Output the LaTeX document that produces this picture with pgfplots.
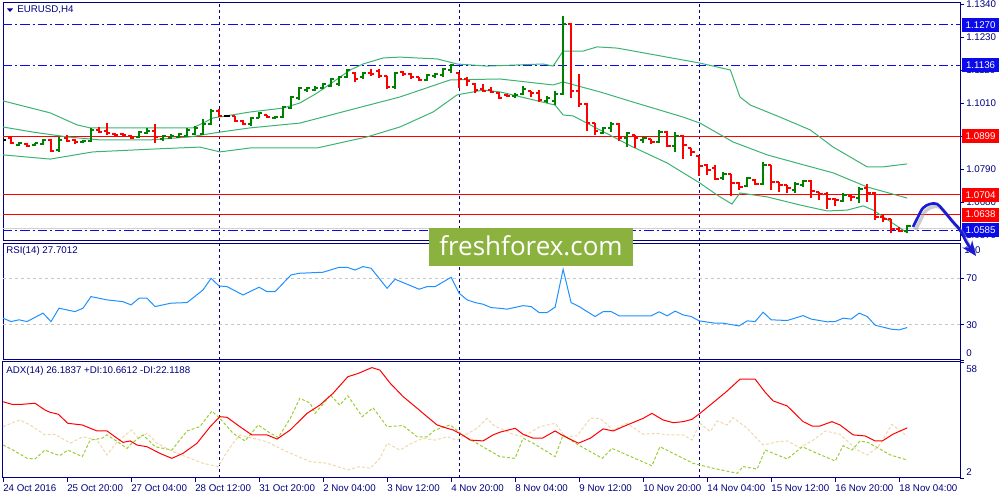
\documentclass[border=0pt]{standalone}
\usepackage{fontspec}
\setmainfont{Liberation Sans}
\newfontfamily\wmfont{Open Sans}
\usepackage{pgfplots}
\pgfplotsset{compat=1.18}
\usepackage{pgfplotstable}
\usetikzlibrary{arrows.meta}

\definecolor{mtnavy}{RGB}{0,0,128}
\definecolor{bband}{RGB}{60,179,113}
\definecolor{barup}{RGB}{0,128,0}
\definecolor{bardn}{RGB}{255,0,0}
\definecolor{lvlblue}{RGB}{10,10,235}
\definecolor{rsiblue}{RGB}{30,144,255}
\definecolor{pdi}{RGB}{154,205,50}
\definecolor{mdi}{RGB}{240,215,170}
\definecolor{wmgreen}{RGB}{139,178,62}
\definecolor{arrowblue}{RGB}{25,25,215}

% EURUSD H4 bars: index, open, high, low, close
\pgfplotstableread{
i o h l c
2 1.0870 1.0880 1.0867 1.0877
4 1.0870 1.0877 1.0867 1.0877
5 1.0873 1.0890 1.0870 1.0887
7 1.0853 1.0897 1.0847 1.0887
10 1.0880 1.0887 1.0877 1.0883
11 1.0883 1.0927 1.0880 1.0920
17 1.0897 1.0917 1.0893 1.0913
18 1.0910 1.0927 1.0907 1.0917
20 1.0890 1.0903 1.0883 1.0900
21 1.0893 1.0907 1.0890 1.0900
22 1.0897 1.0910 1.0893 1.0907
23 1.0900 1.0927 1.0897 1.0920
24 1.0907 1.0933 1.0903 1.0927
25 1.0907 1.0957 1.0903 1.0940
26 1.0940 1.0990 1.0937 1.0983
31 1.0940 1.0963 1.0933 1.0960
32 1.0960 1.0980 1.0960 1.0977
34 1.0960 1.0967 1.0957 1.0963
35 1.0963 1.1000 1.0960 1.0997
36 1.0993 1.1033 1.0990 1.1030
37 1.1027 1.1063 1.1020 1.1060
38 1.1053 1.1063 1.1047 1.1060
39 1.1053 1.1067 1.1050 1.1060
40 1.1060 1.1077 1.1057 1.1073
41 1.1067 1.1093 1.1063 1.1090
42 1.1073 1.1100 1.1067 1.1097
43 1.1097 1.1123 1.1093 1.1120
45 1.1097 1.1113 1.1090 1.1110
49 1.1063 1.1113 1.1057 1.1110
53 1.1087 1.1107 1.1083 1.1103
54 1.1100 1.1110 1.1093 1.1107
55 1.1103 1.1127 1.1097 1.1123
56 1.1120 1.1140 1.1110 1.1137
64 1.1033 1.1043 1.1027 1.1037
65 1.1040 1.1067 1.1037 1.1057
68 1.1017 1.1033 1.1010 1.1027
69 1.1017 1.1050 1.1003 1.1040
70 1.1040 1.1300 1.1037 1.1273
75 1.0910 1.0930 1.0907 1.0927
76 1.0927 1.0947 1.0913 1.0940
78 1.0893 1.0913 1.0863 1.0910
80 1.0887 1.0897 1.0877 1.0893
82 1.0880 1.0920 1.0877 1.0913
84 1.0867 1.0913 1.0847 1.0900
90 1.0760 1.0780 1.0753 1.0773
93 1.0733 1.0763 1.0730 1.0760
95 1.0740 1.0813 1.0737 1.0803
99 1.0720 1.0747 1.0710 1.0740
100 1.0737 1.0753 1.0730 1.0750
105 1.0683 1.0710 1.0680 1.0703
107 1.0693 1.0730 1.0677 1.0723
113 1.0583 1.0603 1.0577 1.0600
}\upbars

\pgfplotstableread{
i o h l c
1 1.0893 1.0897 1.0873 1.0877
3 1.0873 1.0877 1.0863 1.0867
6 1.0887 1.0890 1.0847 1.0850
8 1.0893 1.0903 1.0880 1.0883
9 1.0887 1.0890 1.0873 1.0880
12 1.0920 1.0930 1.0910 1.0913
13 1.0917 1.0943 1.0903 1.0910
14 1.0907 1.0910 1.0900 1.0903
15 1.0907 1.0910 1.0897 1.0903
16 1.0900 1.0903 1.0890 1.0893
19 1.0917 1.0940 1.0877 1.0897
27 1.0983 1.0990 1.0963 1.0967
29 1.0967 1.0967 1.0947 1.0950
30 1.0950 1.0953 1.0937 1.0940
33 1.0970 1.0970 1.0960 1.0963
44 1.1110 1.1113 1.1080 1.1090
46 1.1110 1.1123 1.1100 1.1107
47 1.1117 1.1123 1.1093 1.1100
48 1.1100 1.1100 1.1057 1.1063
50 1.1113 1.1117 1.1100 1.1107
51 1.1107 1.1110 1.1090 1.1097
52 1.1097 1.1097 1.1083 1.1087
57 1.1110 1.1110 1.1060 1.1090
58 1.1090 1.1097 1.1067 1.1083
59 1.1073 1.1077 1.1043 1.1053
60 1.1057 1.1073 1.1047 1.1050
61 1.1053 1.1063 1.1043 1.1047
62 1.1043 1.1047 1.1023 1.1027
63 1.1037 1.1040 1.1030 1.1033
66 1.1050 1.1050 1.1030 1.1043
67 1.1043 1.1053 1.1013 1.1020
71 1.1273 1.1277 1.1027 1.1050
72 1.1050 1.1107 1.0997 1.1007
73 1.1007 1.1010 1.0917 1.0943
74 1.0943 1.0943 1.0903 1.0917
77 1.0940 1.0943 1.0883 1.0893
79 1.0903 1.0903 1.0860 1.0893
81 1.0890 1.0890 1.0873 1.0880
83 1.0913 1.0917 1.0863 1.0867
85 1.0900 1.0903 1.0823 1.0870
86 1.0860 1.0860 1.0833 1.0847
87 1.0833 1.0833 1.0767 1.0800
88 1.0803 1.0807 1.0770 1.0787
89 1.0793 1.0803 1.0753 1.0757
91 1.0773 1.0773 1.0700 1.0743
92 1.0743 1.0747 1.0720 1.0730
94 1.0753 1.0757 1.0737 1.0740
96 1.0803 1.0803 1.0720 1.0747
97 1.0747 1.0747 1.0713 1.0737
98 1.0737 1.0737 1.0710 1.0727
101 1.0750 1.0753 1.0693 1.0717
102 1.0713 1.0713 1.0687 1.0707
103 1.0707 1.0713 1.0657 1.0690
104 1.0690 1.0693 1.0667 1.0687
106 1.0700 1.0703 1.0683 1.0697
108 1.0727 1.0740 1.0680 1.0710
109 1.0710 1.0713 1.0620 1.0630
110 1.0630 1.0637 1.0613 1.0623
111 1.0623 1.0623 1.0577 1.0590
112 1.0590 1.0597 1.0580 1.0583
}\dnbars

\pgfplotstableread{
i o h l c
0 1.0887 1.0890 1.0883 1.0887
28 1.0967 1.0970 1.0963 1.0967
}\dojibars

% Bollinger bands
\pgfplotstableread{
i p
0 1.1017
5.9 1.0977
9.25 1.0937
10.9 1.0927
23.75 1.0927
26.25 1.0960
30.9 1.0980
35 1.0993
37.1 1.1010
39.25 1.1043
41.25 1.1080
43.4 1.1120
45 1.1140
47.5 1.1160
49.6 1.1163
51.75 1.1160
54.25 1.1157
56.75 1.1140
60.5 1.1133
67.5 1.1140
68.75 1.1133
70 1.1183
72.5 1.1183
74.25 1.1197
76.75 1.1193
80.9 1.1173
87.1 1.1143
90.9 1.1120
92.1 1.1030
93.4 1.1003
97.1 1.0963
100.9 1.0920
103.75 1.0863
108 1.0797
110 1.0797
113 1.0807
}\bbup

\pgfplotstableread{
i p
0 1.0930
3.75 1.0913
8 1.0897
12.1 1.0887
18.4 1.0887
23.4 1.0897
27.1 1.0913
30.9 1.0927
37.1 1.0943
43.4 1.0987
49.6 1.1030
55.9 1.1087
62.1 1.1090
68.75 1.1070
70 1.1080
74.6 1.1047
78.75 1.1013
85 1.0963
87.1 1.0943
91.25 1.0880
95.5 1.0837
99.6 1.0807
103.75 1.0777
108 1.0730
113 1.0693
}\bbmid

\pgfplotstableread{
i p
0 1.0837
5.9 1.0823
11.25 1.0847
19.25 1.0857
24.6 1.0863
27.1 1.0847
30.9 1.0860
39.25 1.0860
45.5 1.0897
49.6 1.0930
53.75 1.0980
56.75 1.1037
60 1.1053
62.1 1.1047
69 1.1003
70 1.0970
71.25 1.0967
74.6 1.0920
78.75 1.0863
83 1.0810
87.1 1.0743
89.25 1.0703
91.1 1.0673
92.1 1.0710
95.5 1.0697
99.6 1.0670
103 1.0650
105.5 1.0653
107.5 1.0667
108.75 1.0653
113 1.0577
}\bblow

% RSI(14)
\pgfplotstableread{
i v
0 35.7
1 32.8
2 34.3
3 32.8
5 40.0
6 32.8
7 44.2
9 41.3
10 44.2
11 54.1
13 51.3
15 49.8
16 47.0
17 52.7
18 52.7
19 45.6
21 48.5
23 49.0
25 59.8
26 69.7
27 63.2
28 62.6
30 55.5
32 62.1
33 58.3
34 58.3
35 65.5
36 72.6
37 74.0
40 74.9
42 79.1
43 79.1
44 76.8
45 79.7
46 78.3
48 61.2
49 68.9
52 60.4
53 62.6
54 62.6
56 70.6
57 57.0
58 51.3
59 49.0
60 47.6
61 44.7
62 44.2
63 43.4
65 46.4
66 45.6
67 40.5
68 40.5
69 45.1
70 77.4
71 49.0
72 45.6
73 41.3
74 37.1
75 41.3
76 41.3
77 37.7
79 37.7
81 37.7
82 41.1
83 37.7
84 41.7
85 38.5
86 37.1
87 33.4
89 31.4
90 31.4
92 29.1
93 33.4
94 32.8
95 40.8
96 34.3
98 33.7
100 37.9
101 34.9
103 32.6
104 32.8
105 35.7
106 34.9
107 40.0
108 37.1
109 29.7
111 26.3
112 25.7
113 27.7
}\rsi

% ADX(14), +DI, -DI
\pgfplotstableread{
i v
0 38.8
1.1 37.6
2.5 37.6
4 38.1
5.25 34.8
5.9 33.7
6.9 32.8
8.1 28.4
9.9 27.6
11.75 24.7
13 24.7
14 21.9
15 19.2
15.9 19.9
16.75 17.9
18 17.1
19.6 13.9
21.1 11.5
22.5 13.9
24.25 18.8
25.9 26.8
27.1 31.6
28 31.3
29.6 26.8
31.1 22.8
33 22.8
34.25 20.8
35.9 25.2
38 33.2
39.6 37.2
41.25 42.9
43.1 50.9
44.4 52.5
46.1 55.3
47.1 54.1
48.4 47.7
50 41.3
51.75 35.7
53 31.6
54.25 27.6
55.5 26.0
56.25 25.2
57.4 22.8
58.4 20.3
60 19.9
61.25 22.8
62.1 24.1
64 26.0
65 23.1
66.25 21.2
67.4 21.2
69 24.7
70 22.4
71.9 18.8
73.4 21.2
75 25.7
76.25 24.7
78 27.6
80 30.8
81.1 33.2
82.5 30.0
83.75 28.7
85 29.2
86.1 30.3
87.1 33.2
88.75 38.4
90.5 44.0
92.1 49.7
94 49.7
95.25 43.4
96.25 39.2
98 36.8
100 29.2
101.1 27.1
102.1 27.1
103.6 29.2
104.6 27.6
106.25 22.8
107.75 22.3
109 19.9
109.9 19.9
111.25 23.2
113 26.2
}\adx

\pgfplotstableread{
i v
0 17.9
1.25 15.5
3 11.5
4 11.2
5.25 15.5
6.25 13.9
7.1 12.8
8.1 15.5
9.9 12.3
10.9 20.3
12.4 21.2
13 22.8
14 20.3
15.5 16.3
16.1 18.8
17.5 22.8
19 17.1
21.1 15.5
23 24.7
24.6 26.8
26.1 34.3
27.1 30.8
28.75 23.6
30.25 19.9
31.9 27.6
33.1 24.4
34.4 21.5
35.9 30.8
37.1 40.5
38.4 38.1
39 33.2
39.9 37.2
40.9 42.1
42.1 37.2
43.1 41.7
44.9 31.6
46.25 35.9
48 26.8
50 27.3
51.75 21.9
53 21.9
54 25.2
55.9 27.6
57.4 22.8
59.6 17.9
62.1 12.3
64 11.5
65 21.2
66.25 18.8
69 12.3
70 22.8
71.75 18.3
74.9 11.5
76.1 16.3
81.1 7.9
82.1 17.1
86.25 9.1
88.75 6.7
91.75 4.3
92.5 7.5
94.25 6.3
95.25 15.5
98 11.2
99.9 17.1
101.25 14.7
104 10.2
105 17.6
106.1 15.5
107.1 19.9
108.1 19.2
110.9 13.1
113 10.7
}\pdiplus

\pgfplotstableread{
i v
0 26.8
2.1 30.0
3.4 27.6
5.25 22.8
6.5 23.1
8.4 18.8
10 21.9
11.75 20.3
13 13.1
14.25 19.5
16.1 25.2
16.9 21.2
18 23.6
19.25 18.8
21.25 14.7
23.4 11.5
25 9.1
26.9 7.5
27.75 13.1
28.75 18.8
29.6 22.8
30.5 21.9
33 19.5
34.6 16.3
36.25 13.4
38.4 9.9
40.5 9.1
43.1 5.9
44.6 7.5
45.9 6.7
47.1 11.5
48 18.8
49.6 15.5
51.1 18.8
52.5 21.2
54 20.3
55.5 21.9
56.75 20.3
57.75 22.8
59.25 26.0
60.5 30.8
61.25 27.6
62.1 26.0
63.75 23.1
65 21.9
67.1 26.8
69 28.4
70.25 21.9
71.75 22.4
73.4 30.8
74.6 30.8
76.25 25.2
78 28.4
80 23.1
81.75 23.6
83 22.8
85 22.8
86.1 20.3
87.1 28.4
88.4 24.4
89.25 29.5
90.5 27.6
91.25 31.1
93 26.0
95 17.9
96.75 19.5
98 19.9
99.6 16.6
101.25 20.3
102.75 24.7
104.6 23.1
106.75 15.5
108 13.1
109.4 17.1
111.1 27.9
113 22.1
}\pdiminus

\pgfplotsset{
  mtpanel/.style={
    scale only axis, width=717.75pt,
    xmin=0, xmax=119.6,
    axis line style={mtnavy, line width=0.75pt},
    tick style={mtnavy, line width=0.6pt},
    major tick length=3pt,
    tick align=outside,
    ytick pos=right, yticklabel pos=right,
    xtick pos=left,
    every tick label/.append style={font=\fontsize{7.3}{8}\selectfont, text=mtnavy, inner sep=1.5pt},
    /pgf/number format/assume math mode=true,
  },
  sepline/.style={ycomb, mtnavy, line width=0.6pt, dash pattern=on 2.25pt off 2.25pt, forget plot},
  ohlc/.style={line width=1.2pt, forget plot},
}

\begin{document}
\begin{tikzpicture}[x=0.75pt,y=0.75pt]
\path[use as bounding box] (0,0) rectangle (1000,500);

% ---- price window
\begin{axis}[mtpanel, at={(2.25pt,372.75pt)}, anchor=north west, height=178.5pt,
  ymin=1.0550, ymax=1.13433, xtick=\empty, scaled y ticks=false,
  ytick={1.0570,1.0680,1.0790,1.0900,1.1010,1.1120,1.1230,1.1340},
  yticklabel style={/pgf/number format/.cd, fixed, fixed zerofill, precision=4}]
  \addplot[sepline] coordinates {(27,1.2) (57,1.2) (87,1.2)};
  \addplot[bardn, line width=0.75pt] coordinates {(0,1.0899) (120,1.0899)};
  \addplot[bardn, line width=0.75pt] coordinates {(0,1.0704) (120,1.0704)};
  \addplot[bardn, line width=0.75pt] coordinates {(0,1.0638) (120,1.0638)};
  \addplot[gray!35, line width=0.75pt] coordinates {(0,1.0590) (120,1.0590)};
  \addplot[lvlblue, line width=0.75pt, dash pattern=on 7pt off 2.25pt on 1.5pt off 2.25pt] coordinates {(0,1.1270) (120,1.1270)};
  \addplot[lvlblue, line width=0.75pt, dash pattern=on 7pt off 2.25pt on 1.5pt off 2.25pt] coordinates {(0,1.1136) (120,1.1136)};
  \addplot[lvlblue, line width=0.75pt, dash pattern=on 7pt off 2.25pt on 1.5pt off 2.25pt] coordinates {(0,1.0585) (120,1.0585)};
  \addplot[bband, line width=0.75pt] table[x=i,y=p] {\bbup};
  \addplot[bband, line width=0.75pt] table[x=i,y=p] {\bbmid};
  \addplot[bband, line width=0.75pt] table[x=i,y=p] {\bblow};
  % OHLC bars
  \addplot[ohlc, barup, quiver={u=0, v=\thisrow{l}-\thisrow{h}}] table[x=i,y=h] {\upbars};
  \addplot[ohlc, barup, quiver={u=-0.42, v=0}] table[x=i,y=o] {\upbars};
  \addplot[ohlc, barup, quiver={u=0.42, v=0}] table[x=i,y=c] {\upbars};
  \addplot[ohlc, bardn, quiver={u=0, v=\thisrow{l}-\thisrow{h}}] table[x=i,y=h] {\dnbars};
  \addplot[ohlc, bardn, quiver={u=-0.42, v=0}] table[x=i,y=o] {\dnbars};
  \addplot[ohlc, bardn, quiver={u=0.42, v=0}] table[x=i,y=c] {\dnbars};
  \addplot[ohlc, black, quiver={u=0, v=\thisrow{l}-\thisrow{h}}] table[x=i,y=h] {\dojibars};
  \addplot[ohlc, black, quiver={u=-0.42, v=0}] table[x=i,y=o] {\dojibars};
  \addplot[ohlc, black, quiver={u=0.42, v=0}] table[x=i,y=c] {\dojibars};
  \coordinate (L1) at (axis cs:119.6,1.1270);
  \coordinate (L2) at (axis cs:119.6,1.1136);
  \coordinate (L3) at (axis cs:119.6,1.0899);
  \coordinate (L4) at (axis cs:119.6,1.0704);
  \coordinate (L5) at (axis cs:119.6,1.0638);
  \coordinate (L6) at (axis cs:119.6,1.0585);
\end{axis}

% ---- RSI window
\begin{axis}[mtpanel, at={(2.25pt,192pt)}, anchor=north west, height=87pt,
  ymin=0, ymax=99, xtick=\empty, ytick={30,70},
  extra y ticks={0}, extra y tick style={yticklabel style={yshift=5pt}}]
  \addplot[sepline] coordinates {(27,120) (57,120) (87,120)};
  \addplot[gray!45, line width=0.6pt, dash pattern=on 2.25pt off 2.25pt] coordinates {(0,70) (120,70)};
  \addplot[gray!45, line width=0.6pt, dash pattern=on 2.25pt off 2.25pt] coordinates {(0,30) (120,30)};
  \addplot[rsiblue, line width=0.75pt] table[x=i,y=v] {\rsi};
\end{axis}

% ---- ADX window
\begin{axis}[mtpanel, at={(2.25pt,103.5pt)}, anchor=north west, height=87pt,
  ymin=2, ymax=58,
  xtick={0,8,16,24,32,40,48,56,64,72,80,88,96,104,112},
  xticklabels={24 Oct 2016,25 Oct 20:00,27 Oct 04:00,28 Oct 12:00,31 Oct 20:00,2 Nov 04:00,3 Nov 12:00,4 Nov 20:00,8 Nov 04:00,9 Nov 12:00,10 Nov 20:00,14 Nov 04:00,15 Nov 12:00,16 Nov 20:00,18 Nov 04:00},
  xticklabel style={anchor=north west, xshift=-1.5pt},
  ytick={2}, yticklabel style={yshift=4.5pt},
  extra y ticks={58}, extra y tick style={yticklabel style={yshift=-9.75pt}}]
  \addplot[sepline] coordinates {(27,70) (57,70) (87,70)};
  \addplot[mdi, line width=0.75pt, dash pattern=on 2.25pt off 1.5pt] table[x=i,y=v] {\pdiminus};
  \addplot[pdi, line width=0.75pt, dash pattern=on 2.25pt off 1.5pt] table[x=i,y=v] {\pdiplus};
  \addplot[red, line width=0.75pt] table[x=i,y=v] {\adx};
\end{axis}

% ---- price level labels
\foreach \c/\t/\col in {L1/1.1270/lvlblue, L2/1.1136/lvlblue, L3/1.0899/bardn, L4/1.0704/bardn, L5/1.0638/bardn, L6/1.0585/lvlblue}
  \node[fill=\col, text=white, anchor=west, xshift=1.5pt, inner sep=0pt,
        minimum width=27.5pt, minimum height=10.5pt, font=\fontsize{7.3}{8}\selectfont] at (\c) {\t};

% ---- window titles
\fill[mtnavy] (7,491.5) -- (13,491.5) -- (10,488) -- cycle;
\node[anchor=west, text=mtnavy, inner sep=0pt, font=\fontsize{7.3}{8}\selectfont] at (17,490) {EURUSD,H4};
\node[anchor=west, text=mtnavy, inner sep=0pt, font=\fontsize{7.3}{8}\selectfont] at (6,249) {RSI(14) 27.7012};
\node[anchor=west, text=mtnavy, inner sep=0pt, font=\fontsize{7.3}{8}\selectfont] at (6,129) {ADX(14) 26.1837 +DI:10.6612 -DI:22.1188};
\node[anchor=west, text=mtnavy, inner sep=0pt, font=\fontsize{7.3}{8}\selectfont] at (964,250) {100};

% ---- watermark
\fill[wmgreen] (429,234) rectangle (633,272);
\node[text=white, inner sep=0pt, font=\wmfont\fontsize{19.5}{20}\selectfont] at (531,254) {freshforex.com};

% ---- hand-drawn forecast arrow
\draw[black!40, opacity=0.5, line width=2.6pt, shift={(2.5,-3)}] plot[smooth, tension=0.6] coordinates {(913,273) (918,283) (923,292) (930,296) (937,296) (943,290) (953,278) (960,270) (967,257) (973,249)};
\draw[arrowblue, line width=2pt, -{Stealth[length=11pt,width=9pt]}] plot[smooth, tension=0.6] coordinates {(913,273) (918,283) (923,292) (930,296) (937,296) (943,290) (953,278) (960,270) (967,257) (976,244)};
\end{tikzpicture}
\end{document}
